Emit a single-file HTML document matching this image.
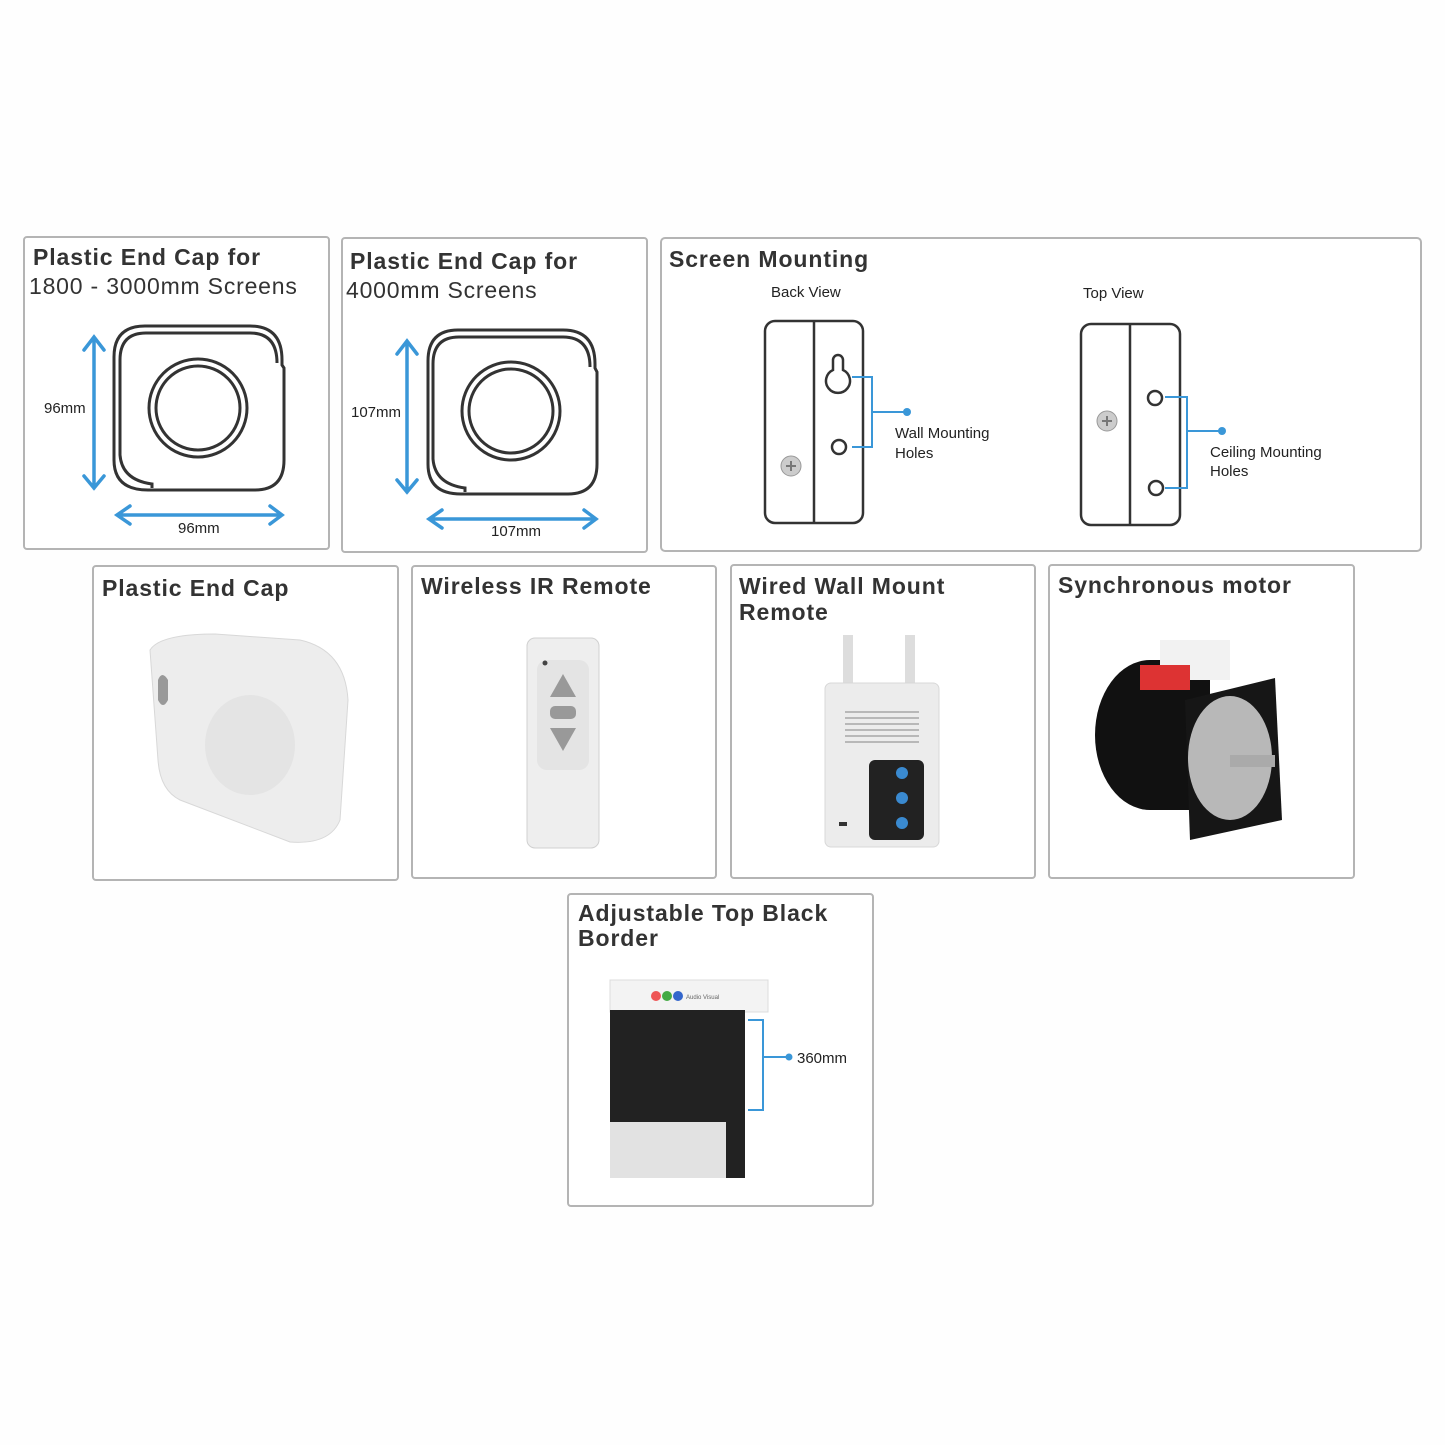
<!DOCTYPE html>
<html><head><style>
html,body{margin:0;padding:0;background:#fff}
svg{display:block}
text{font-family:"Liberation Sans",Arial,sans-serif}
.t{font-weight:bold;font-size:23px;fill:#333;letter-spacing:0.9px}
.s{font-size:23px;fill:#333;letter-spacing:0.8px}
.l{font-size:15px;fill:#222}
</style></head><body>
<svg width="1445" height="1445" viewBox="0 0 1445 1445" xmlns="http://www.w3.org/2000/svg">
<rect width="1445" height="1445" fill="#fefefe"/>
<g fill="#fff" stroke="#b4b4b4" stroke-width="2">
<rect x="24" y="237" width="305" height="312" rx="3"/>
<rect x="342" y="238" width="305" height="314" rx="3"/>
<rect x="661" y="238" width="760" height="313" rx="4"/>
<rect x="93" y="566" width="305" height="314" rx="3"/>
<rect x="412" y="566" width="304" height="312" rx="3"/>
<rect x="731" y="565" width="304" height="313" rx="3"/>
<rect x="1049" y="565" width="305" height="313" rx="3"/>
<rect x="568" y="894" width="305" height="312" rx="3"/>
</g>
<text x="33" y="265" class="t">Plastic End Cap for</text>
<text x="29" y="294" class="s">1800 - 3000mm Screens</text>
<text x="350" y="269" class="t">Plastic End Cap for</text>
<text x="346" y="298" class="s">4000mm Screens</text>
<text x="669" y="267" class="t">Screen Mounting</text>
<text x="102" y="596" class="t">Plastic End Cap</text>
<text x="421" y="594" class="t">Wireless IR Remote</text>
<text x="739" y="594" class="t">Wired Wall Mount</text>
<text x="739" y="620" class="t">Remote</text>
<text x="1058" y="593" class="t">Synchronous motor</text>
<text x="578" y="921" class="t">Adjustable Top Black</text>
<text x="578" y="946" class="t">Border</text>

<g fill="none" stroke="#333" stroke-width="3">
<path d="M152 490 L255 490 Q284 490 284 460 L284 368 L282 365 L282 360 Q282 326 250 326 L145 326 Q114 326 114 357 L114 460 Q114 490 148 490 Z"/>
<path d="M152 488 L152 484 Q122 480 120 455 L120 360 Q120 333 146 333 L250 333 Q277 333 277 363"/>
<circle cx="198" cy="408" r="49"/><circle cx="198" cy="408" r="42"/>
<path d="M465 494 L568 494 Q597 494 597 464 L597 372 L595 368 L595 364 Q595 330 563 330 L458 330 Q428 330 428 361 L428 464 Q428 494 461 494 Z"/>
<path d="M465 492 L465 488 Q435 484 433 459 L433 364 Q433 337 459 337 L563 337 Q590 337 590 367"/>
<circle cx="511" cy="411" r="49"/><circle cx="511" cy="411" r="42"/>
</g>
<g fill="none" stroke="#3a97d8" stroke-width="3.5" stroke-linecap="round">
<path d="M94 337 V488 M84 350 L94 337 L104 350 M84 476 L94 488 L104 476"/>
<path d="M117 515 H282 M130 506 L117 515 L130 524 M270 506 L282 515 L270 524"/>
<path d="M407 341 V492 M397 354 L407 341 L417 354 M397 480 L407 492 L417 480"/>
<path d="M429 519 H596 M442 510 L429 519 L442 528 M584 510 L596 519 L584 528"/>
</g>
<text x="44" y="413" class="l">96mm</text>
<text x="178" y="533" class="l">96mm</text>
<text x="351" y="417" class="l">107mm</text>
<text x="491" y="536" class="l">107mm</text>

<text x="771" y="297" class="l" font-size="16">Back View</text>
<text x="1083" y="298" class="l" font-size="16">Top View</text>
<g fill="#fff" stroke="#333" stroke-width="2.5">
<rect x="765" y="321" width="98" height="202" rx="10"/>
<line x1="814" y1="322" x2="814" y2="522"/>
<path d="M833 370 L833 360 A5 5 0 0 1 843 360 L843 370 A12 12 0 1 1 833 370 Z"/>
<circle cx="839" cy="447" r="7"/>
<rect x="1081" y="324" width="99" height="201" rx="10"/>
<line x1="1130" y1="325" x2="1130" y2="524"/>
<circle cx="1155" cy="398" r="7"/><circle cx="1156" cy="488" r="7"/>
</g>
<circle cx="791" cy="466" r="10" fill="#ccc" stroke="#999"/><path d="M786 466h10M791 461v10" stroke="#777" stroke-width="2"/>
<circle cx="1107" cy="421" r="10" fill="#ccc" stroke="#999"/><path d="M1102 421h10M1107 416v10" stroke="#777" stroke-width="2"/>
<g fill="none" stroke="#3a97d8" stroke-width="2">
<path d="M852 377 H872 V447 H852 M872 412 H907"/>
<path d="M1165 397 H1187 V488 H1165 M1187 431 H1222"/>
<path d="M748 1020 H763 V1110 H748 M763 1057 H789"/>
</g>
<circle cx="907" cy="412" r="4" fill="#3a97d8"/><circle cx="1222" cy="431" r="4" fill="#3a97d8"/><circle cx="789" cy="1057" r="3.5" fill="#3a97d8"/>
<text x="895" y="438" class="l" font-size="16">Wall Mounting</text>
<text x="895" y="458" class="l" font-size="16">Holes</text>
<text x="1210" y="457" class="l" font-size="16">Ceiling Mounting</text>
<text x="1210" y="476" class="l" font-size="16">Holes</text>
<text x="797" y="1063" class="l">360mm</text>

<path d="M150 650 Q160 634 215 634 L300 640 Q345 650 348 700 L340 820 Q330 845 290 842 L180 800 Q160 790 158 760 Z" fill="#ededed" stroke="#d8d8d8"/>
<ellipse cx="250" cy="745" rx="45" ry="50" fill="#e4e4e4"/>
<path d="M158 680 Q162 670 168 680 L168 700 Q163 710 158 700Z" fill="#999"/>
<rect x="527" y="638" width="72" height="210" rx="8" fill="#eeeeee" stroke="#d0d0d0"/>
<rect x="537" y="660" width="52" height="110" rx="10" fill="#e4e4e4"/>
<path d="M550 697 L563 674 L576 697Z" fill="#999"/><rect x="550" y="706" width="26" height="13" rx="5" fill="#999"/><path d="M550 728 L576 728 L563 751Z" fill="#999"/>
<circle cx="545" cy="663" r="2.5" fill="#444"/>
<path d="M848 635 V685 M910 635 V685" stroke="#ddd" stroke-width="10"/>
<rect x="825" y="683" width="114" height="164" rx="6" fill="#ececec" stroke="#d8d8d8"/>
<g stroke="#999" stroke-width="1.2"><path d="M845 712h74M845 718h74M845 724h74M845 730h74M845 736h74M845 742h74"/></g>
<rect x="869" y="760" width="55" height="80" rx="6" fill="#222"/>
<circle cx="902" cy="773" r="6" fill="#3a8ad0"/><circle cx="902" cy="798" r="6" fill="#3a8ad0"/><circle cx="902" cy="823" r="6" fill="#3a8ad0"/>
<rect x="839" y="822" width="8" height="4" fill="#333"/>
<ellipse cx="1150" cy="735" rx="55" ry="75" fill="#111"/>
<rect x="1150" y="660" width="60" height="150" fill="#111"/>
<path d="M1185 700 L1275 678 L1282 820 L1190 840 Z" fill="#161616"/>
<ellipse cx="1230" cy="758" rx="42" ry="62" fill="#b8b8b8"/>
<rect x="1230" y="755" width="45" height="12" fill="#aaa"/>
<rect x="1160" y="640" width="70" height="40" fill="#f2f2f2"/>
<rect x="1140" y="665" width="50" height="25" fill="#d33"/>
<rect x="610" y="980" width="158" height="32" fill="#f3f3f3" stroke="#ddd"/>
<rect x="610" y="1010" width="135" height="168" fill="#222"/>
<rect x="610" y="1122" width="116" height="56" fill="#e2e2e2"/>
<circle cx="656" cy="996" r="5" fill="#e55"/><circle cx="667" cy="996" r="5" fill="#4a4"/><circle cx="678" cy="996" r="5" fill="#36c"/>
<text x="686" y="999" font-size="6" fill="#666">Audio Visual</text>
</svg>
</body></html>
